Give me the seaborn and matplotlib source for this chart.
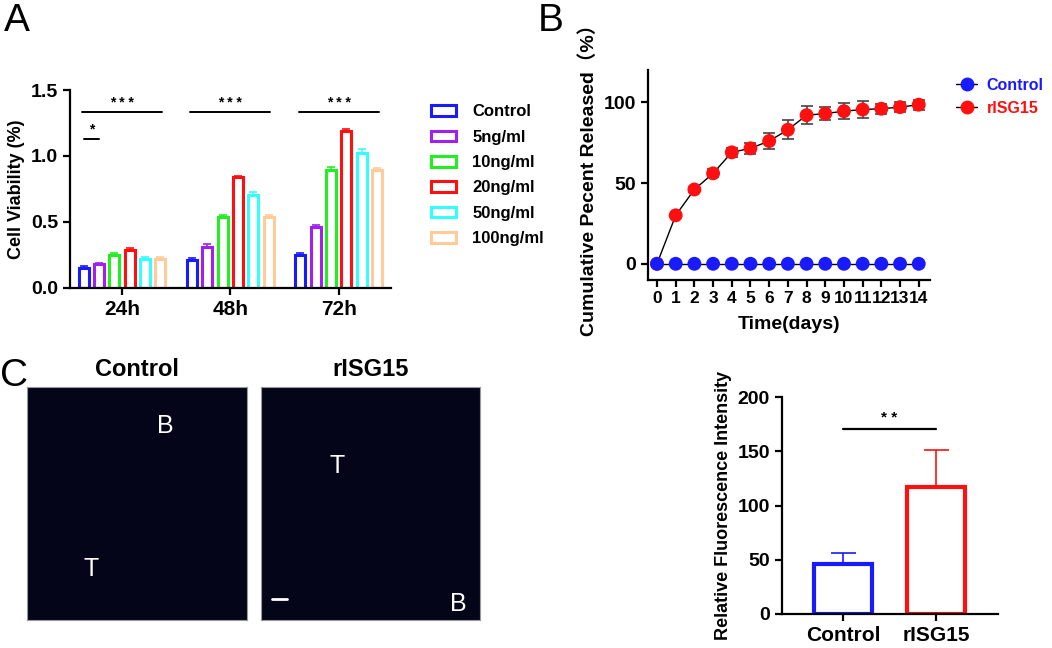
import numpy as np
import pandas as pd
import matplotlib.pyplot as plt
import seaborn as sns
from matplotlib.lines import Line2D
from matplotlib.patches import Rectangle

# ---- data ----
times = ['24h', '48h', '72h']
doses = ['Control', '5ng/ml', '10ng/ml', '20ng/ml', '50ng/ml', '100ng/ml']
dose_colors = ['#1a1aff', '#a020f0', '#22ee22', '#ff1010', '#33ffff', '#ffcc99']
viability = {
    'Control': [0.15, 0.21, 0.25],
    '5ng/ml': [0.18, 0.31, 0.46],
    '10ng/ml': [0.25, 0.54, 0.89],
    '20ng/ml': [0.29, 0.84, 1.19],
    '50ng/ml': [0.22, 0.70, 1.02],
    '100ng/ml': [0.22, 0.54, 0.89],
}
viability_err = {
    'Control': [0.015, 0.015, 0.015],
    '5ng/ml': [0.01, 0.02, 0.015],
    '10ng/ml': [0.015, 0.015, 0.025],
    '20ng/ml': [0.015, 0.01, 0.015],
    '50ng/ml': [0.015, 0.025, 0.035],
    '100ng/ml': [0.01, 0.015, 0.015],
}

days = list(range(15))
release_isg = [0, 30, 46, 56, 69, 71.5, 76, 83, 92, 93, 94.5, 95.5, 96, 97, 98.5]
release_isg_err = [0, 1, 1.5, 2.5, 3, 3.5, 5, 6, 5.5, 4, 5, 5.5, 3, 3, 3]
release_ctrl = [0, 0, 0, 0, 0, 0, 0, 0, 0, 0, 0, 0, 0, 0, 0]

fluor_groups = ['Control', 'rISG15']
fluor_mean = [46, 117]
fluor_err = [10, 34]
fluor_colors = ['#1a1aff', '#ff1010']

sns.set_style('ticks')
plt.rcParams['font.family'] = ['Liberation Sans', 'Noto Sans CJK SC', 'DejaVu Sans']
plt.rcParams['font.weight'] = 'bold'
plt.rcParams['axes.linewidth'] = 1.6
plt.rcParams['axes.edgecolor'] = 'black'
plt.rcParams['axes.labelcolor'] = 'black'
plt.rcParams['text.color'] = 'black'
plt.rcParams['xtick.color'] = 'black'
plt.rcParams['ytick.color'] = 'black'
plt.rcParams['xtick.major.width'] = 1.6
plt.rcParams['ytick.major.width'] = 1.6
plt.rcParams['xtick.major.size'] = 5
plt.rcParams['ytick.major.size'] = 5

fig = plt.figure(figsize=(10.52, 6.48), dpi=100)


def style_axes(ax):
    sns.despine(ax=ax)
    for lab in ax.get_xticklabels() + ax.get_yticklabels():
        lab.set_fontweight('bold')


# ---- panel A ----
axA = fig.add_axes([0.0665, 0.556, 0.305, 0.305])
dfA = pd.DataFrame([(t, d, viability[d][i]) for d in doses for i, t in enumerate(times)],
                   columns=['time', 'dose', 'value'])
sns.barplot(data=dfA, x='time', y='value', hue='dose', hue_order=doses, order=times,
            palette=dose_colors, fill=False, width=0.85, gap=0.35, linewidth=2.2,
            errorbar=None, legend=False, ax=axA)
for cont, d, c in zip(axA.containers, doses, dose_colors):
    xs = [p.get_x() + p.get_width() / 2 for p in cont.patches]
    hs = [p.get_height() for p in cont.patches]
    axA.errorbar(xs, hs, yerr=[[0] * len(xs), viability_err[d]], fmt='none',
                 ecolor=c, elinewidth=1.2, capsize=3, capthick=1.2)
axA.set_xlim(-0.48, 2.48)
axA.set_ylim(0, 1.5)
axA.set_yticks([0, 0.5, 1.0, 1.5])
axA.set_yticklabels(['0.0', '0.5', '1.0', '1.5'], fontsize=14)
axA.tick_params(axis='x', labelsize=15)
axA.set_xlabel('')
axA.set_ylabel('Cell Viability (%)', fontsize=13, fontweight='bold')
for g in range(3):
    axA.plot([g - 0.37, g + 0.37], [1.33, 1.33], color='black', lw=1.4)
    axA.text(g, 1.345, '* * *', ha='center', va='bottom', fontsize=10)
axA.plot([-0.354, -0.212], [1.13, 1.13], color='black', lw=1.4)
axA.text(-0.283, 1.145, '*', ha='center', va='bottom', fontsize=10)
style_axes(axA)
handlesA = [Rectangle((0, 0), 1, 1, fill=False, edgecolor=c, lw=2.2) for c in dose_colors]
fig.legend(handlesA, doses, loc='upper left', bbox_to_anchor=(0.395, 0.862), frameon=False,
           prop={'weight': 'bold', 'size': 12}, handlelength=1.5, handleheight=0.6,
           labelspacing=0.62, handletextpad=1.0)
fig.text(0.004, 0.995, 'A', fontsize=28, fontweight='normal', va='top')

# ---- panel B ----
axB = fig.add_axes([0.616, 0.568, 0.268, 0.324])
axB.plot(days, release_isg, color='black', lw=1.0, zorder=2)
axB.errorbar(days, release_isg, yerr=release_isg_err, fmt='none', ecolor='#444444',
             elinewidth=1.2, capsize=4, capthick=1.2, zorder=2)
axB.plot(days, release_ctrl, color='black', lw=1.0, zorder=2)
dfB = pd.DataFrame({'day': days * 2,
                    'value': release_isg + release_ctrl,
                    'group': ['rISG15'] * 15 + ['Control'] * 15})
sns.scatterplot(data=dfB, x='day', y='value', hue='group',
                palette={'rISG15': '#ff1010', 'Control': '#1a1aff'},
                s=100, edgecolor='none', legend=False, zorder=3, ax=axB)
axB.set_xlim(-0.48, 14.6)
axB.set_ylim(-10, 120)
axB.set_xticks(days)
axB.set_yticks([0, 50, 100])
axB.tick_params(axis='x', labelsize=12.5, pad=3)
axB.tick_params(axis='y', labelsize=14)
axB.set_xlabel('Time(days)', fontsize=14, fontweight='bold', labelpad=7)
axB.set_ylabel('Cumulative Pecent Released（%）', fontsize=14, fontweight='bold')
style_axes(axB)
handlesB = [Line2D([0], [0], color='black', lw=1, marker='o', markersize=9,
                   markerfacecolor=c, markeredgecolor=c) for c in ['#1a1aff', '#ff1010']]
legB = fig.legend(handlesB, ['Control', 'rISG15'], loc='upper left',
                  bbox_to_anchor=(0.9, 0.895), frameon=False,
                  prop={'weight': 'bold', 'size': 11.5}, handlelength=1.3,
                  labelspacing=0.5, handletextpad=0.6, borderaxespad=0.2)
for txt, c in zip(legB.get_texts(), ['#1a1aff', '#ff1010']):
    txt.set_color(c)
fig.text(0.511, 0.995, 'B', fontsize=28, fontweight='normal', va='top')

# ---- panel C: image placeholders ----
fig.text(0.0, 0.42, 'C', fontsize=28, fontweight='normal', va='center')
img_boxes = [[0.0257, 0.0432, 0.209, 0.36], [0.248, 0.0432, 0.208, 0.36]]
titles = ['Control', 'rISG15']
for box, title in zip(img_boxes, titles):
    axi = fig.add_axes(box)
    axi.imshow(np.zeros((10, 10, 3)) + np.array([0.02, 0.02, 0.10]), aspect='auto',
               extent=[0, 1, 0, 1])
    axi.set_xticks([])
    axi.set_yticks([])
    for s in axi.spines.values():
        s.set_color('#999999')
        s.set_linewidth(0.8)
    axi.set_title(title, fontsize=17, fontweight='bold', pad=8)
    if title == 'Control':
        axi.text(0.63, 0.83, 'B', color='white', fontsize=18, fontweight='normal',
                 transform=axi.transAxes, ha='center', va='center')
        axi.text(0.29, 0.22, 'T', color='white', fontsize=18, fontweight='normal',
                 transform=axi.transAxes, ha='center', va='center')
    else:
        axi.text(0.35, 0.66, 'T', color='white', fontsize=18, fontweight='normal',
                 transform=axi.transAxes, ha='center', va='center')
        axi.text(0.9, 0.07, 'B', color='white', fontsize=18, fontweight='normal',
                 transform=axi.transAxes, ha='center', va='center')
        axi.plot([0.05, 0.12], [0.09, 0.09], color='white', lw=2, transform=axi.transAxes)

# ---- panel C: bar chart ----
axC = fig.add_axes([0.743, 0.0525, 0.206, 0.3345])
dfC = pd.DataFrame({'group': fluor_groups, 'value': fluor_mean})
sns.barplot(data=dfC, x='group', y='value', hue='group', palette=fluor_colors,
            fill=False, width=0.62, linewidth=3, errorbar=None, legend=False, ax=axC)
for cont, err, c in zip(axC.containers, fluor_err, fluor_colors):
    for p in cont.patches:
        xc = p.get_x() + p.get_width() / 2
        axC.errorbar([xc], [p.get_height()], yerr=[[0], [err]], fmt='none', ecolor=c,
                     elinewidth=1.2, capsize=9, capthick=1.2)
axC.plot([0, 1], [171, 171], color='black', lw=1.6)
axC.text(0.5, 174, '* *', ha='center', va='bottom', fontsize=11)
axC.set_xlim(-0.66, 1.67)
axC.set_ylim(0, 200)
axC.set_yticks([0, 50, 100, 150, 200])
axC.tick_params(axis='x', labelsize=15)
axC.tick_params(axis='y', labelsize=14)
axC.set_xlabel('')
axC.set_ylabel('Relative Fluorescence Intensity', fontsize=13, fontweight='bold')
style_axes(axC)

fig.savefig('out.png', dpi=100)
